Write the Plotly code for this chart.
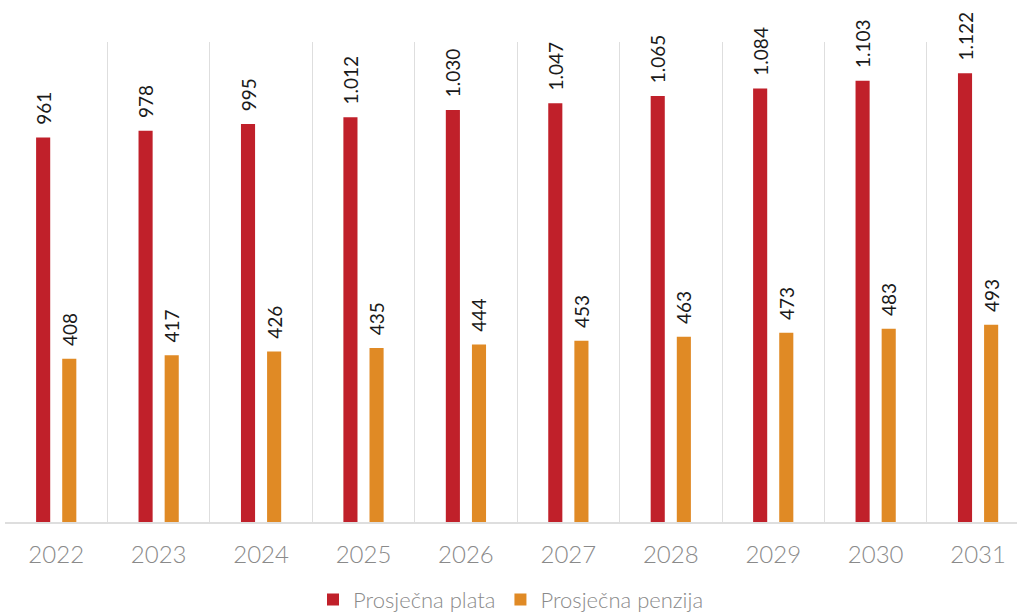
"""Prosjecna plata i penzija 2022-2031."""

import plotly.graph_objects as go

years = ["2022", "2023", "2024", "2025", "2026", "2027", "2028", "2029", "2030", "2031"]
plata = [961, 978, 995, 1012, 1030, 1047, 1065, 1084, 1103, 1122]
penzija = [408, 417, 426, 435, 444, 453, 463, 473, 483, 493]

RED = "#C0202A"
ORANGE = "#E08A25"
FONT = "Lato"

fig = go.Figure()
for name, values, color in (
    ("Prosječna plata", plata, RED),
    ("Prosječna penzija", penzija, ORANGE),
):
    fig.add_trace(
        go.Bar(
            x=years,
            y=values,
            name=name,
            marker=dict(color=color, line=dict(width=0)),
            texttemplate="\u00a0\u00a0%{y:,}",
            textposition="outside",
            textangle=-90,
            constraintext="none",
            textfont=dict(family=FONT, size=19, color="#1a1a1a"),
            cliponaxis=False,
        )
    )

fig.update_layout(
    width=1017,
    height=615,
    barmode="group",
    bargap=0.49,
    bargroupgap=0.46,
    separators=",.",
    plot_bgcolor="white",
    paper_bgcolor="white",
    margin=dict(l=5, r=0, t=42, b=93, autoexpand=False),
    font=dict(family=FONT),
    showlegend=True,
    legend=dict(
        orientation="h",
        x=0.5,
        xanchor="center",
        y=-0.162,
        yanchor="middle",
        font=dict(family=FONT, size=22, color="#8a8a8a", weight=300),
        itemwidth=30,
    ),
    xaxis=dict(
        type="category",
        range=[-0.5, 9.38],
        tickson="boundaries",
        showgrid=True,
        gridcolor="#dedede",
        gridwidth=1,
        ticks="",
        ticklabelstandoff=10,
        tickfont=dict(family=FONT, size=24, color="#8a8a8a", weight=300),
        showline=True,
        linecolor="#dedede",
        linewidth=2,
        automargin=False,
    ),
    yaxis=dict(
        range=[0, 1200],
        showgrid=False,
        zeroline=False,
        showticklabels=False,
        ticks="",
        automargin=False,
    ),
)

# page body has a default 8px margin; drop it so the figure sits at the corner
fig.write_html(
    "out.html",
    config={"displayModeBar": False},
    post_script="document.body.style.margin = '0';",
)
